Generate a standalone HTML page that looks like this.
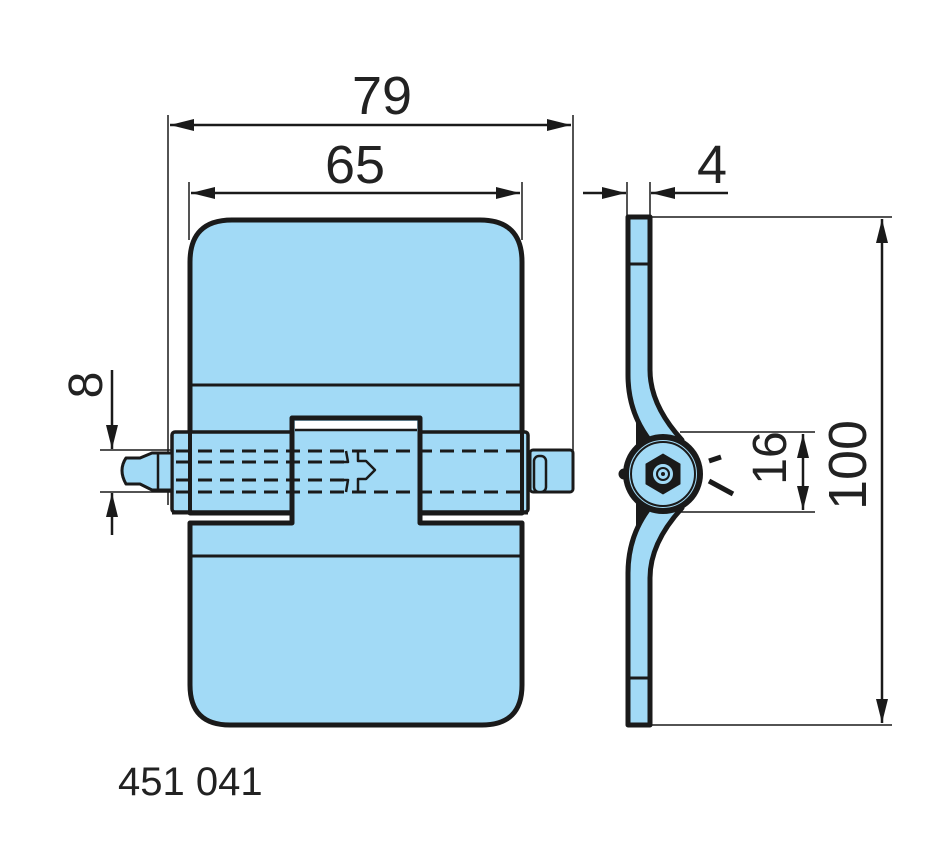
<!DOCTYPE html>
<html><head><meta charset="utf-8"><style>
html,body{margin:0;padding:0;background:#fff;}
svg{display:block;}
text{font-family:"Liberation Sans",sans-serif;fill:#222;}
</style></head><body>
<svg width="950" height="860" viewBox="0 0 950 860" xmlns="http://www.w3.org/2000/svg">
<defs>
<marker id="a" viewBox="0 0 24 12" refX="24" refY="6" markerWidth="24" markerHeight="12" markerUnits="userSpaceOnUse" orient="auto-start-reverse"><path d="M0,0 L24,6 L0,12 Z" fill="#1a1a1a"/></marker>
</defs>
<g stroke="#1a1a1a" stroke-width="1.5" fill="none">
<line x1="168" y1="115" x2="168" y2="505"/>
<line x1="573" y1="115" x2="573" y2="455"/>
<line x1="170" y1="125" x2="571" y2="125" stroke-width="2.5" marker-start="url(#a)" marker-end="url(#a)"/>
<line x1="189" y1="182" x2="189" y2="240"/>
<line x1="522" y1="182" x2="522" y2="240"/>
<line x1="191" y1="193" x2="520" y2="193" stroke-width="2.5" marker-start="url(#a)" marker-end="url(#a)"/>
<line x1="627" y1="182" x2="627" y2="218"/>
<line x1="650" y1="182" x2="650" y2="218"/>
<line x1="583" y1="193" x2="626" y2="193" stroke-width="2.5" marker-end="url(#a)"/>
<line x1="728" y1="193" x2="651" y2="193" stroke-width="2.5" marker-end="url(#a)"/>
<line x1="650" y1="217" x2="892" y2="217"/>
<line x1="650" y1="725" x2="892" y2="725"/>
<line x1="882" y1="219" x2="882" y2="723" stroke-width="2.5" marker-start="url(#a)" marker-end="url(#a)"/>
<line x1="680" y1="432" x2="815" y2="432"/>
<line x1="680" y1="512" x2="815" y2="512"/>
<line x1="803" y1="434" x2="803" y2="510" stroke-width="2.5" marker-start="url(#a)" marker-end="url(#a)"/>
<line x1="100" y1="450" x2="172" y2="450"/>
<line x1="100" y1="492" x2="172" y2="492"/>
<line x1="112" y1="370" x2="112" y2="449" stroke-width="2.5" marker-end="url(#a)"/>
<line x1="112" y1="535" x2="112" y2="493" stroke-width="2.5" marker-end="url(#a)"/>
</g>

<g stroke="#1a1a1a" stroke-linejoin="round">
<path d="M190,513 L190,262 Q190,220 232,220 L480,220 Q522,220 522,262 L522,513 Z" fill="#a2daf6" stroke-width="5"/>
<line x1="192" y1="385" x2="520" y2="385" stroke-width="3"/>
<path d="M190,523 L292,523 L292,513 L420,513 L420,523 L522,523 L522,685 Q522,725 482,725 L230,725 Q190,725 190,685 Z" fill="#a2daf6" stroke-width="5"/>
<line x1="192" y1="556" x2="520" y2="556" stroke-width="3"/>
<rect x="172" y="432" width="356" height="80" fill="#a2daf6" stroke-width="3.5" rx="3"/>
<line x1="190" y1="432" x2="190" y2="512" stroke-width="4"/>
<line x1="522" y1="432" x2="522" y2="512" stroke-width="4"/>
<line x1="172" y1="513" x2="292" y2="513" stroke-width="3"/>
<line x1="420" y1="513" x2="528" y2="513" stroke-width="3"/>
<path d="M292,520 L292,418 L420,418 L420,520" fill="#a2daf6" stroke-width="5"/>
<rect x="295" y="421" width="122" height="9" fill="#fff" stroke="none"/>
<line x1="295" y1="430" x2="417" y2="430" stroke-width="2.5"/>
<rect x="530" y="450" width="43" height="42" fill="#a2daf6" stroke-width="3" rx="3"/>
<rect x="534" y="456" width="12" height="36" rx="5" fill="#a2daf6" stroke-width="2.5"/>
<path d="M172,453 L152,453 L140,458 L126,458 Q118,470 126,484 L140,484 L152,490 L172,490 Z" fill="#a2daf6" stroke-width="3"/>
<line x1="158" y1="453" x2="158" y2="490" stroke-width="2.5"/>
<g stroke-width="3" stroke-dasharray="14,8" fill="none">
<line x1="176" y1="451" x2="528" y2="451"/>
<line x1="176" y1="492" x2="528" y2="492"/>
<line x1="176" y1="462" x2="345" y2="462"/>
<line x1="176" y1="480" x2="345" y2="480"/>
</g>
<path d="M346,451 L348,462 L340,462 M358,451 L358,461 L366,461 L375,470 L366,479 L358,479 L358,492 M346,492 L348,480 L340,480" fill="none" stroke-width="2.5"/>
</g>

<!-- side view -->
<g stroke="#1a1a1a" stroke-linejoin="round">
<path d="M636,412 L660,440 L632,474 L660,508 L636,536 Z" fill="#1a1a1a" stroke="none"/>
<path d="M628,217 L650,217 L650,370 Q650,405 682,440 L660,452 Q628,420 628,375 Z" fill="#a2daf6" stroke-width="5"/>
<path d="M628,725 L650,725 L650,578 Q650,543 682,508 L660,496 Q628,528 628,573 Z" fill="#a2daf6" stroke-width="5"/>
<line x1="628" y1="264" x2="650" y2="264" stroke-width="3"/>
<line x1="628" y1="678" x2="650" y2="678" stroke-width="3"/>
<line x1="709" y1="461" x2="721" y2="457" stroke-width="5"/>
<line x1="709" y1="481" x2="733" y2="494" stroke-width="5"/>
<circle cx="624" cy="474" r="5" fill="#1a1a1a"/>
<circle cx="663" cy="474" r="40" fill="#1a1a1a" stroke="none"/>
<circle cx="663" cy="474" r="35" fill="#a2daf6" stroke-width="2"/>
<circle cx="663" cy="474" r="32" fill="#a2daf6" stroke-width="2"/>
<polygon points="663,454 680,464 680,484 663,494 646,484 646,464" fill="#1a1a1a"/>
<circle cx="663" cy="474" r="11" fill="#a2daf6" stroke-width="2"/>
<circle cx="663" cy="474" r="6" fill="#a2daf6" stroke-width="2"/>
<circle cx="663" cy="474" r="2" fill="#1a1a1a" stroke="none"/>
</g>

<text x="382" y="114" font-size="54" text-anchor="middle">79</text>
<text x="355" y="183" font-size="54" text-anchor="middle">65</text>
<text x="712" y="183" font-size="54" text-anchor="middle">4</text>
<text transform="translate(102,385) rotate(-90)" font-size="48" text-anchor="middle">8</text>
<text transform="translate(786,458) rotate(-90)" font-size="48" text-anchor="middle">16</text>
<text transform="translate(866,465) rotate(-90)" font-size="54" text-anchor="middle">100</text>
<text x="118" y="795" font-size="40">451 041</text>
</svg>
</body></html>
